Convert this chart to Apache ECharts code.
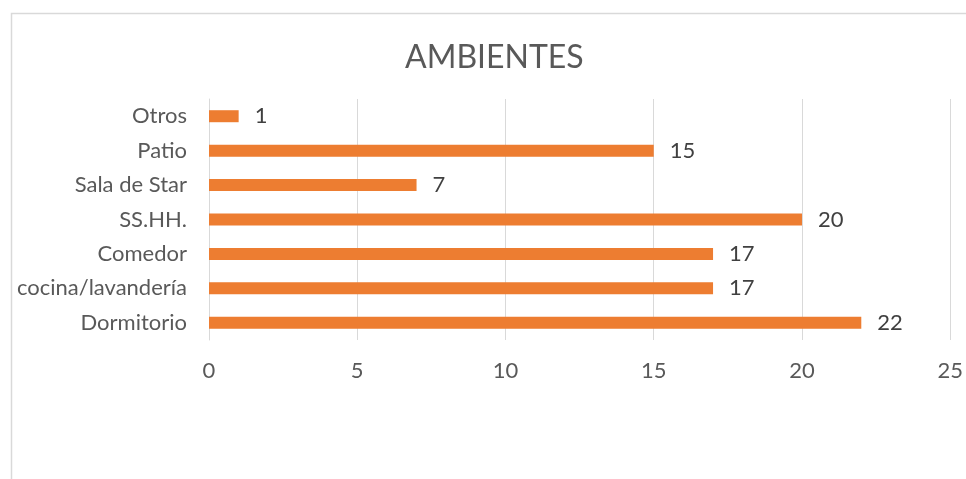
<!DOCTYPE html>
<html>
<head>
<meta charset="utf-8">
<script src="https://cdn.jsdelivr.net/npm/echarts@6/dist/echarts.min.js"></script>
<style>
  html, body { margin: 0; padding: 0; background: #fff; }
  #chart { width: 966px; height: 479px; }
</style>
</head>
<body>
<div id="chart"></div>
<script>
"use strict";

var categories = ['Dormitorio', 'cocina/lavandería', 'Comedor', 'SS.HH.', 'Sala de Star', 'Patio', 'Otros'];
var values = [22, 17, 17, 20, 7, 15, 1];
var xTicks = [0, 5, 10, 15, 20, 25];

var font = 'Lato, Carlito, "Open Sans", sans-serif';

var option = {
  backgroundColor: '#fff',
  animation: false,
  graphic: [{
    type: 'rect',
    left: 9, top: 11,
    shape: { width: 1000, height: 500 },
    style: { fill: 'none', stroke: '#d9d9d9', lineWidth: 1.5 },
    silent: true
  }],
  title: {
    text: 'AMBIENTES',
    left: 400,
    top: 37,
    textStyle: { fontFamily: font, fontSize: 32, fontWeight: 'normal', color: '#595959' }
  },
  grid: { left: 209, right: 15, top: 99, bottom: 139, containLabel: false },
  xAxis: {
    type: 'value',
    min: xTicks[0],
    max: xTicks[xTicks.length - 1],
    interval: 5,
    axisLine: { show: false },
    axisTick: { show: false },
    splitLine: { show: true, lineStyle: { color: '#d9d9d9', width: 1 } },
    axisLabel: { margin: 20, fontFamily: font, fontSize: 22, color: '#595959' }
  },
  yAxis: {
    type: 'category',
    data: categories,
    axisLine: { show: true, lineStyle: { color: '#d9d9d9', width: 1 } },
    axisTick: { show: false },
    axisLabel: { margin: 22, fontFamily: font, fontSize: 22, color: '#595959' }
  },
  series: [{
    type: 'bar',
    data: values,
    barWidth: 12,
    itemStyle: { color: '#ed7d31' },
    label: {
      show: true,
      position: 'right',
      distance: 16,
      fontFamily: font,
      fontSize: 22,
      color: '#404040'
    }
  }]
};

var myChart = echarts.init(document.getElementById('chart'));
myChart.setOption(option);
</script>
</body>
</html>
